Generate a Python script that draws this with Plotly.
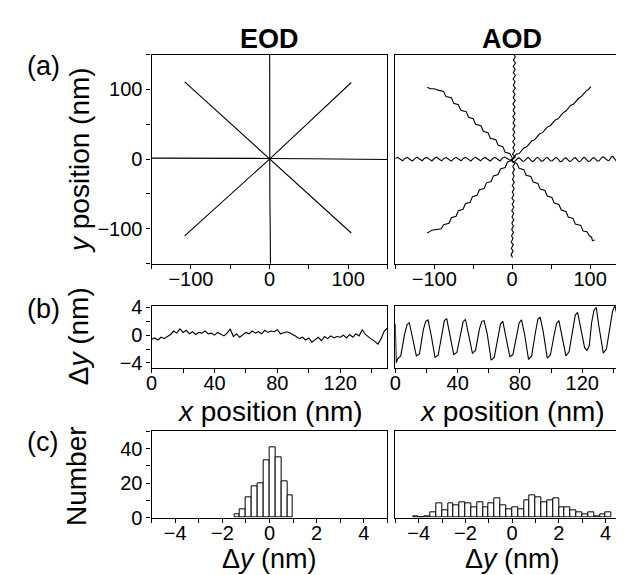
import plotly.graph_objects as go

W, H = 624, 575
FONT = "Liberation Sans, Arial, sans-serif"

# ---------------- data: panel (a) EOD ----------------
EOD_H_X = [-150, -100, -50, 0, 50, 100, 150]
EOD_H_Y = [1.4, 1.5, 1.6, 1.0, 0.5, 0.2, -0.4]
EOD_V_X = [0.2, 0.1, 0.0, 0.0, 0.4, 0.9, 1.2]
EOD_V_Y = [150, 100, 50, 0, -50, -100, -150]
EOD_D1_X = [-108, -54, 0, 52, 104]
EOD_D1_Y = [111, 56, 0, -52, -106]
EOD_D2_X = [-108, -54, 0, 52, 104]
EOD_D2_Y = [-110, -55, 0, 55, 110]

# ---------------- data: panel (a) AOD ----------------
AOD_HL_X = [-150, -147, -144, -140.5, -137.5, -134.5, -131.5, -128, -125, -122, -119, -115.5,
            -112.5, -109.5, -106.5, -103, -100, -97, -94, -90.5, -87.5, -84.5, -81.5, -78,
            -75, -72, -69, -65.5, -62.5, -59.5, -56.5, -53, -50, -47, -44, -40.5,
            -37.5, -34.5, -31.5, -28, -25, -22, -19, -15.5, -12.5, -9.5, -6.5, -3, 0]
AOD_HL_Y = [1.0, 2.6, 0.2, -2.4, 1.1, 2.5, -0.1, -2.7, 0.8, 2.7, 0.3, -2.2,
            1.2, 2.4, 0.0, -2.6, 0.9, 2.8, 0.2, -2.5, 1.0, 2.3, -0.2, -2.8,
            0.7, 2.6, 0.1, -2.3, 1.3, 2.5, 0.0, -2.6, 0.8, 2.7, 0.3, -2.4,
            1.1, 2.4, -0.1, -2.7, 0.9, 2.6, 0.2, -2.5, 1.5, 3.0, 1.0, -1.5, 0.0]
AOD_V_Y = [-141, -137, -132, -128, -123, -119, -114, -110, -105, -101, -96, -92, -87, -83,
           -78, -74, -69, -65, -60, -56, -51, -47, -42, -38, -33, -29, -24, -20, -15, -11,
           -6, -2, 3, 7, 12, 16, 21, 25, 30, 34, 39, 43, 48, 52, 57, 61, 66, 70, 75, 79,
           84, 88, 93, 97, 102, 106, 111, 115, 120, 124, 129, 133, 138, 142, 147, 150]
AOD_V_X = [0.5, -1.5, 1.2, -1.0, 1.5, -1.2, 1.0, -0.8, 1.8, -0.6, 1.6, -0.4, 2.0, -0.2,
           1.9, -0.5, 2.2, 0.0, 2.4, -0.3, 2.1, 0.2, 2.6, 0.1, 2.8, 0.4, 2.5, 0.6, 3.0, 0.8,
           3.5, -1.0, 4.0, 0.5, 3.2, 0.9, 3.4, 0.7, 3.6, 1.0, 3.3, 0.8, 3.7, 1.1, 3.5, 0.9,
           3.8, 1.2, 3.6, 1.0, 3.9, 1.3, 3.7, 1.1, 4.0, 1.4, 3.8, 1.2, 4.1, 1.5, 3.9, 1.3,
           4.2, 1.6, 4.0, 2.5]
AOD_UR_X = [0, 5, 9, 15, 19, 25, 29, 35, 39, 45, 49, 55, 59, 65, 69, 75, 79, 85, 89, 95, 98, 101]
AOD_UR_Y = [0, 7, 8, 16, 18, 26, 28, 36, 38, 46, 48, 56, 58, 66, 69, 77, 79, 87, 90, 98, 100, 104]
AOD_UL_X = [0, -3, -9, -12, -18, -21, -28, -31, -37, -40, -47, -50, -56, -59, -66, -69,
            -75, -78, -85, -88, -95, -100, -105, -109]
AOD_UL_Y = [2, 8, 10, 18, 20, 28, 30, 38, 40, 48, 50, 58, 60, 68, 70, 78, 80, 88, 90, 97,
            99, 101, 101, 103]
AOD_LL_X = [0, -6, -9, -15, -18, -24, -27, -33, -36, -42, -45, -51, -54, -60, -63, -69,
            -72, -78, -81, -88, -91, -98, -103, -106, -109]
AOD_LL_Y = [-2, -4, -12, -14, -22, -24, -32, -34, -42, -44, -52, -54, -62, -64, -72, -74,
            -82, -84, -92, -94, -100, -101, -102, -104, -106]
AOD_LR_X = [0, 6, 9, 15, 18, 24, 27, 33, 36, 42, 45, 51, 54, 60, 63, 69, 72, 78, 81, 88,
            91, 96, 99, 102, 103, 106]
AOD_LR_Y = [-3, -6, -13, -15, -23, -25, -33, -35, -43, -45, -53, -55, -63, -65, -73, -75,
            -83, -85, -93, -95, -103, -104, -110, -112, -117, -116]

# ---------------- data: panel (b) ----------------
EOD_B_X = list(range(0, 152, 2))
EOD_B_Y = [-0.6, -0.4, -0.7, -0.3, -0.5, -0.2, 0.1, 0.6, 0.3, 0.9, 0.4, 0.7, 0.2, 0.5,
           0.1, 0.4, 0.3, 0.6, 0.2, 0.3, 0.0, 0.4, 0.2, -0.1, 0.3, 0.9, -0.2, 0.2, -0.3,
           0.1, 0.4, 0.2, 0.6, 0.3, 0.5, 0.2, 0.7, 0.4, 0.6, 0.5, 0.8, 0.2, 0.4, 0.5, 0.3,
           0.1, -0.2, -0.5, -0.3, -0.7, -0.4, -1.0, -0.6, -0.3, -0.8, -0.2, -0.5, -0.1,
           -0.4, -0.2, -0.3, 0.0, -0.4, 0.1, -0.3, 0.2, -0.1, 0.8, 0.1, -0.3, -0.6, -0.9,
           -1.3, -0.5, 0.6, 1.0]
AOD_B_X = [0, 0.6,
           1.5, 3.5, 6.0, 7.5, 9.0, 11.0,
           13.5, 15.5, 18.0, 19.5, 21.0, 23.0,
           25.5, 27.5, 30.0, 31.5, 33.0, 35.0,
           37.5, 39.5, 42.0, 43.5, 45.0, 47.0,
           49.5, 51.5, 54.0, 55.5, 57.0, 59.0,
           61.5, 63.5, 66.0, 67.5, 69.0, 71.0,
           73.5, 75.5, 78.0, 79.5, 81.0, 83.0,
           85.5, 87.5, 90.0, 91.5, 93.0, 95.0,
           97.5, 99.5, 102.0, 103.5, 105.0, 107.0,
           109.5, 111.5, 114.0, 115.5, 117.0, 119.0,
           121.5, 123.0, 124.5, 126.0, 127.5, 129.0, 130.5,
           133.5, 135.5, 138.0, 139.5, 141.0, 143.0,
           145.5, 147.0, 148.5, 150.0]
AOD_B_Y = [1.6, -4.0,
           -3.4, -3.0, 0.2, 1.5, 1.8, -0.2,
           -3.0, -2.7, 0.8, 2.0, 2.2, 0.0,
           -3.2, -2.9, 0.4, 2.1, 2.4, 0.3,
           -2.8, -2.5, 0.6, 1.9, 2.3, -0.1,
           -2.6, -2.2, 0.9, 2.0, 2.1, 0.2,
           -3.6, -3.2, 0.0, 1.6, 2.0, -0.3,
           -3.1, -2.8, 0.3, 1.8, 2.2, 0.1,
           -3.5, -3.0, 0.5, 2.3, 2.6, 0.4,
           -3.3, -2.9, 0.1, 1.7, 2.1, 0.0,
           -3.0, -2.4, 1.0, 2.9, 3.3, 1.2,
           -1.8, -2.2, -1.5, 1.8, 3.6, 4.0, 1.5,
           -2.6, -2.0, 1.5, 3.5, 4.3, 2.0,
           -2.8, -1.0, 2.5, 4.0]

# ---------------- data: panel (c) ----------------
EOD_HIST_CENTERS = [-1.375, -1.125, -0.875, -0.625, -0.375, -0.125, 0.125, 0.375, 0.625, 0.875]
EOD_HIST_COUNTS = [2, 5, 12, 18, 20, 33, 41, 35, 21, 13]
AOD_HIST_CENTERS = [-4.125, -3.875, -3.625, -3.375, -3.125, -2.875, -2.625, -2.375, -2.125,
                    -1.875, -1.625, -1.375, -1.125, -0.875, -0.625, -0.375, -0.125, 0.125,
                    0.375, 0.625, 0.875, 1.125, 1.375, 1.625, 1.875, 2.125, 2.375, 2.625,
                    2.875, 3.125, 3.375, 3.625, 3.875, 4.125]
AOD_HIST_COUNTS = [1, 0, 1, 3, 8, 4, 8, 7, 9, 8, 6, 9, 6, 8, 11, 7, 5, 6, 5, 10, 13, 12, 9,
                   10, 11, 6, 6, 4, 3, 2, 3, 1, 2, 3]
BIN_WIDTH = 0.25

# ---------------- figure ----------------
fig = go.Figure()
LINE = dict(color="black", width=1.1)


def line(x, y, ax):
    fig.add_trace(go.Scatter(x=x, y=y, mode="lines", line=LINE, xaxis="x" + ax, yaxis="y" + ax,
                             showlegend=False, hoverinfo="skip"))


for xs, ys in [(EOD_H_X, EOD_H_Y), (EOD_V_X, EOD_V_Y), (EOD_D1_X, EOD_D1_Y), (EOD_D2_X, EOD_D2_Y)]:
    line(xs, ys, "")
for xs, ys in [(AOD_HL_X, AOD_HL_Y), (AOD_B_X, AOD_B_Y), (AOD_V_X, AOD_V_Y),
               (AOD_UR_X, AOD_UR_Y), (AOD_UL_X, AOD_UL_Y), (AOD_LL_X, AOD_LL_Y), (AOD_LR_X, AOD_LR_Y)]:
    line(xs, ys, "2")
line(EOD_B_X, EOD_B_Y, "3")
line(AOD_B_X, AOD_B_Y, "4")

BAR_MARK = dict(color="white", line=dict(color="black", width=1))
fig.add_trace(go.Bar(x=EOD_HIST_CENTERS, y=EOD_HIST_COUNTS, width=BIN_WIDTH, marker=BAR_MARK,
                     xaxis="x5", yaxis="y5", showlegend=False))
fig.add_trace(go.Bar(x=AOD_HIST_CENTERS, y=AOD_HIST_COUNTS, width=BIN_WIDTH, marker=BAR_MARK,
                     xaxis="x6", yaxis="y6", showlegend=False))


def xd(a, b):
    return [a / W, b / W]


def yd(top, bot):
    return [1 - bot / H, 1 - top / H]


COLS = [(139, 377), (385, 621)]
ROWS = [(38, 255), (299, 363), (429, 518.5)]

TICKFONT = dict(family=FONT, size=20, color="black")


def axis(domain, rng, dtick, minor_dtick, anchor, labels=True, ticks=True, standoff=0):
    d = dict(domain=domain, range=rng, anchor=anchor, showline=True, linecolor="black",
             linewidth=1.4, mirror=True, showgrid=False, zeroline=False,
             tickfont=TICKFONT, fixedrange=True, ticklabelstandoff=standoff)
    if ticks:
        d.update(ticks="outside", ticklen=4, tickwidth=1, tickcolor="black",
                 tickmode="linear", tick0=0, dtick=dtick,
                 minor=dict(ticks="outside", ticklen=4, tickwidth=1, tickcolor="black",
                            dtick=minor_dtick, tick0=0, showgrid=False))
    else:
        d.update(ticks="", showticklabels=False)
    if not labels:
        d.update(showticklabels=False)
    return d


XS = -7
layout = dict(width=W, height=H, margin=dict(l=0, r=0, t=0, b=0),
              paper_bgcolor="white", plot_bgcolor="white", bargap=0,
              font=dict(family=FONT, color="black"))

# row a
layout["xaxis"] = axis(xd(*COLS[0]), [-150, 150], 100, 50, "y", standoff=XS)
layout["yaxis"] = axis(yd(*ROWS[0]), [-150, 150], 100, 50, "x")
layout["xaxis2"] = axis(xd(*COLS[1]), [-150, 150], 100, 50, "y2", standoff=XS)
layout["yaxis2"] = axis(yd(*ROWS[0]), [-150, 150], 100, 50, "x2", ticks=False)
# row b
layout["xaxis3"] = axis(xd(*COLS[0]), [0, 150], 40, 20, "y3", standoff=XS)
layout["yaxis3"] = axis(yd(*ROWS[1]), [-4.7, 4.2], 4, 2, "x3")
layout["xaxis4"] = axis(xd(*COLS[1]), [0, 150], 40, 20, "y4", standoff=XS)
layout["yaxis4"] = axis(yd(*ROWS[1]), [-4.7, 4.2], 4, 2, "x4", ticks=False)
# row c
layout["xaxis5"] = axis(xd(*COLS[0]), [-5, 5], 2, 1, "y5", standoff=XS)
layout["yaxis5"] = axis(yd(*ROWS[2]), [0, 50], 20, 10, "x5")
layout["xaxis6"] = axis(xd(*COLS[1]), [-5, 5], 2, 1, "y6", standoff=XS)
layout["yaxis6"] = axis(yd(*ROWS[2]), [0, 50], 20, 10, "x6", ticks=False)


def ann(text, px, py, size, angle=0):
    return dict(text=text, x=px / W, y=1 - py / H, xref="paper", yref="paper", showarrow=False,
                xanchor="center", yanchor="middle", textangle=angle,
                font=dict(family=FONT, size=size, color="black"))


cx0 = (COLS[0][0] + COLS[0][1]) / 2
cx1 = (COLS[1][0] + COLS[1][1]) / 2
layout["annotations"] = [
    ann("<b>EOD</b>", cx0, 22, 27),
    ann("<b>AOD</b>", cx1, 22, 27),
    ann("(a)", 30, 50, 27),
    ann("(b)", 30, 302, 27),
    ann("(c)", 29, 440, 27),
    ann("<i>y</i> position (nm)", 66, 147, 28, -90),
    ann("Δ<i>y</i> (nm)", 66, 330, 28, -90),
    ann("Number", 63, 475, 28, -90),
    ann("<i>x</i> position (nm)", cx0, 408, 28),
    ann("<i>x</i> position (nm)", cx1, 408, 28),
    ann("Δ<i>y</i> (nm)", cx0, 561, 27),
    ann("Δ<i>y</i> (nm)", cx1, 561, 27),
]

fig.update_layout(**layout)
fig.write_html("out.html")
